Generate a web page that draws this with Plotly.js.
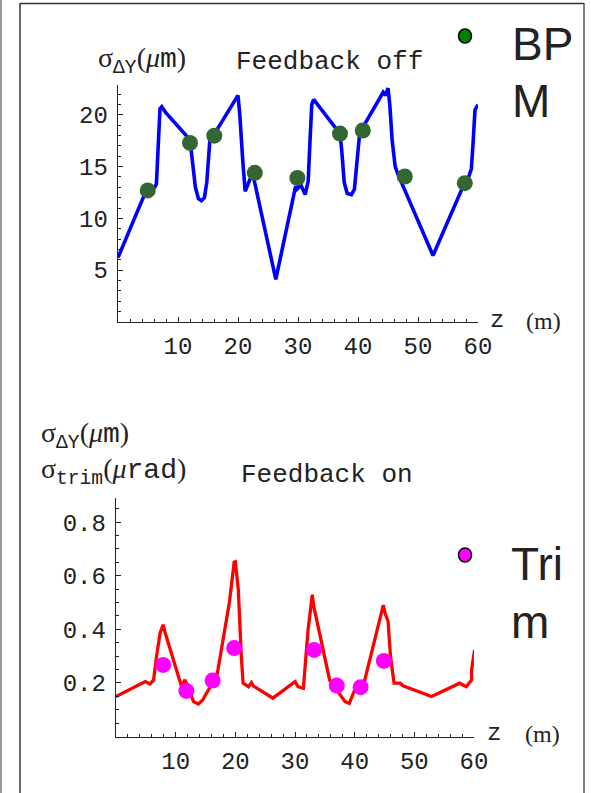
<!DOCTYPE html>
<html>
<head>
<meta charset="utf-8">
<script src="https://cdn.plot.ly/plotly-3.0.1.min.js"></script>
<style>html,body{margin:0;padding:0;background:#fff;}#chart{width:591px;height:793px;}</style>
</head>
<body>
<div id="chart"></div>
<script>
// ---- Data: feedback off (top) ----
const offZ = [0, 4.2, 5.0, 6.0, 6.4, 6.7, 7.0, 7.3, 8.0, 12.0, 12.3, 12.9, 13.4, 13.9, 14.4, 14.8, 15.3, 16.1, 20.0, 20.3, 20.8, 21.2, 22.0, 22.5, 26.3, 29.6, 29.8, 30.5, 31.2, 31.7, 32.0, 32.3, 32.6, 33.0, 37.0, 37.3, 37.7, 38.2, 38.9, 39.4, 39.8, 40.3, 41.0, 44.2, 44.6, 45.0, 45.3, 45.7, 46.2, 46.7, 52.5, 57.3, 58.2, 58.9, 59.2, 59.5, 60.0];
const offSigma = [6.2, 12.0, 12.5, 12.9, 13.3, 17.5, 20.6, 20.8, 20.2, 17.6, 16.0, 13.0, 11.9, 11.7, 12.0, 13.5, 17.5, 18.2, 21.9, 20.0, 15.5, 12.6, 13.8, 14.2, 4.1, 13.1, 12.8, 13.2, 12.3, 13.6, 17.5, 21.0, 21.5, 21.2, 18.2, 16.5, 13.5, 12.4, 12.3, 12.8, 15.0, 18.4, 19.0, 22.2, 21.9, 22.6, 21.0, 17.5, 15.0, 14.2, 6.4, 12.8, 13.6, 14.8, 17.5, 20.5, 21.0];
const bpmZ = [4.95, 12.0, 16.05, 22.8, 29.9, 37.0, 40.8, 47.8, 57.8];
const bpmSigma = [12.7, 17.3, 18.0, 14.4, 13.9, 18.2, 18.5, 14.05, 13.4];

// ---- Data: feedback on (bottom) ----
const onZ = [0, 4.9, 5.7, 6.3, 6.8, 7.4, 7.9, 8.2, 11.0, 11.5, 11.8, 12.4, 13.0, 13.8, 14.5, 15.2, 16.9, 19.0, 19.8, 20.0, 20.3, 20.5, 21.0, 21.3, 22.2, 22.7, 23.0, 26.3, 30.0, 30.5, 31.4, 32.0, 32.2, 32.9, 33.1, 35.8, 37.5, 38.4, 39.1, 40.0, 41.7, 44.8, 45.1, 45.6, 46.0, 46.6, 47.6, 48.1, 52.9, 57.6, 58.7, 59.6, 59.6, 60.1];
const onSigma = [0.149, 0.205, 0.196, 0.211, 0.30, 0.387, 0.417, 0.39, 0.186, 0.211, 0.20, 0.162, 0.13, 0.121, 0.135, 0.163, 0.224, 0.50, 0.65, 0.652, 0.60, 0.548, 0.30, 0.199, 0.186, 0.201, 0.189, 0.143, 0.205, 0.186, 0.18, 0.35, 0.40, 0.529, 0.49, 0.211, 0.155, 0.13, 0.124, 0.174, 0.211, 0.49, 0.46, 0.43, 0.30, 0.199, 0.199, 0.189, 0.149, 0.199, 0.186, 0.211, 0.249, 0.323];
const trimZ = [7.9, 11.8, 16.2, 19.8, 33.2, 37.0, 41.0, 44.9];
const trimSigma = [0.267, 0.170, 0.209, 0.33, 0.323, 0.19, 0.184, 0.282];

// ---- Tick labels ----
const zTicks = [10, 20, 30, 40, 50, 60];
const offTicks = [5, 10, 15, 20];
const onTicks = [0.2, 0.4, 0.6, 0.8];
const onTickText = ["0.2", "0.4", "0.6", "0.8"];

const W = 591, H = 793;
const px = x => x / W;
const py = y => 1 - y / H;

const MONO = "Liberation Mono, Courier New, monospace";
const SERIF = "Liberation Serif, Times New Roman, serif";
const SANS = "Liberation Sans, Arial, sans-serif";
const AX = '#222';

const traces = [
  {x: offZ, y: offSigma, xaxis: 'x', yaxis: 'y', mode: 'lines', line: {color: '#0000ff', width: 3.6}, hoverinfo: 'skip'},
  {x: bpmZ, y: bpmSigma, xaxis: 'x', yaxis: 'y', mode: 'markers', marker: {color: '#336633', size: 16}, hoverinfo: 'skip'},
  {x: onZ, y: onSigma, xaxis: 'x2', yaxis: 'y2', mode: 'lines', line: {color: '#ff0000', width: 3.3}, hoverinfo: 'skip'},
  {x: trimZ, y: trimSigma, xaxis: 'x2', yaxis: 'y2', mode: 'markers', marker: {color: '#ff00ff', size: 16}, hoverinfo: 'skip'}
];

function xAx(domain, anchor) {
  return {
    domain: domain, anchor: anchor, range: [0, 60],
    showline: true, linecolor: AX, linewidth: 1.3, mirror: false,
    ticks: 'inside', ticklen: 5, tickwidth: 1, tickcolor: AX,
    tickmode: 'array', tickvals: zTicks, ticktext: zTicks.map(String),
    tickfont: {family: MONO, size: 24, color: '#222'},
    ticklabelstandoff: 2,
    showgrid: false, zeroline: false,
    minor: {dtick: 2, tick0: 0, ticks: 'inside', ticklen: 3, tickwidth: 1, tickcolor: AX, showgrid: false}
  };
}
function yAx(domain, anchor, range, vals, text, minorD) {
  return {
    domain: domain, anchor: anchor, range: range,
    showline: true, linecolor: AX, linewidth: 1.3,
    ticks: 'inside', ticklen: 5, tickwidth: 1, tickcolor: AX,
    tickmode: 'array', tickvals: vals, ticktext: text,
    tickfont: {family: MONO, size: 24, color: '#222'},
    ticklabelstandoff: 4,
    showgrid: false, zeroline: false,
    minor: {dtick: minorD, tick0: 0, ticks: 'inside', ticklen: 3, tickwidth: 1, tickcolor: AX, showgrid: false}
  };
}

const S = s => `<span style="font-family:${SERIF}">${s}</span>`;
const ann = [];
function A(text, x, y, size, family, xanchor) {
  ann.push({text: text, x: px(x), y: py(y), xref: 'paper', yref: 'paper', showarrow: false,
    xanchor: xanchor || 'left', yanchor: 'middle', font: {family: family, size: size, color: '#222'}});
}
// titles
A('Feedback off', 329, 62, 26, MONO, 'center');
A('Feedback on', 327, 475, 26, MONO, 'center');
// y titles
A(S('σ') + '<sub>ΔY</sub>' + S('(<i>μ</i>') + 'm' + S(')'), 96, 60, 28, MONO);
A(S('σ') + '<sub>ΔY</sub>' + S('(<i>μ</i>') + 'm' + S(')'), 39, 435, 28, MONO);
A(S('σ') + '<sub>trim</sub>' + S('(<i>μ</i>') + 'rad' + S(')'), 39, 471, 28, MONO);
// x titles
A('z', 497, 320, 24, MONO, 'center');
A('(m)', 543, 321, 24, SERIF, 'center');
A('z', 494, 733, 24, MONO, 'center');
A('(m)', 542, 734, 24, SERIF, 'center');
// legend texts
A('BP', 510, 44, 46, SANS);
A('M', 510, 101, 46, SANS);
A('Tri', 509, 564, 46, SANS);
A('m', 509, 622, 46, SANS);

const shapes = [
  // frame
  {type: 'line', xref: 'paper', yref: 'paper', x0: px(20), x1: px(20), y0: py(3), y1: py(793), line: {color: '#666', width: 2}},
  {type: 'line', xref: 'paper', yref: 'paper', x0: px(20), x1: px(584), y0: py(3.5), y1: py(3.5), line: {color: '#333', width: 1.5}},
  {type: 'line', xref: 'paper', yref: 'paper', x0: px(584), x1: px(584), y0: py(3), y1: py(793), line: {color: '#555', width: 1.5}},
  {type: 'line', xref: 'paper', yref: 'paper', x0: px(1), x1: px(1), y0: py(0), y1: py(793), line: {color: '#999', width: 2}},
  // legend dots
  {type: 'circle', xref: 'paper', yref: 'paper', x0: px(458.5), x1: px(471.5), y0: py(29), y1: py(43), fillcolor: '#008000', line: {color: '#000', width: 1.5}},
  {type: 'circle', xref: 'paper', yref: 'paper', x0: px(458.5), x1: px(471.5), y0: py(548), y1: py(562), fillcolor: '#ff00ff', line: {color: '#000', width: 1.5}}
];

const layout = {
  width: W, height: H,
  margin: {l: 0, r: 0, t: 0, b: 0},
  paper_bgcolor: '#fff', plot_bgcolor: 'rgba(0,0,0,0)',
  showlegend: false,
  xaxis: xAx([px(118), px(478)], 'y'),
  yaxis: yAx([py(321.7), py(85)], 'x', [0, 22.9], offTicks, offTicks.map(String), 1),
  xaxis2: xAx([px(116), px(474)], 'y2'),
  yaxis2: yAx([py(736.5), py(498)], 'x2', [0, 0.89], onTicks, onTickText, 0.05),
  annotations: ann,
  shapes: shapes
};

Plotly.newPlot('chart', traces, layout, {staticPlot: true, displayModeBar: false});
</script>
</body>
</html>
